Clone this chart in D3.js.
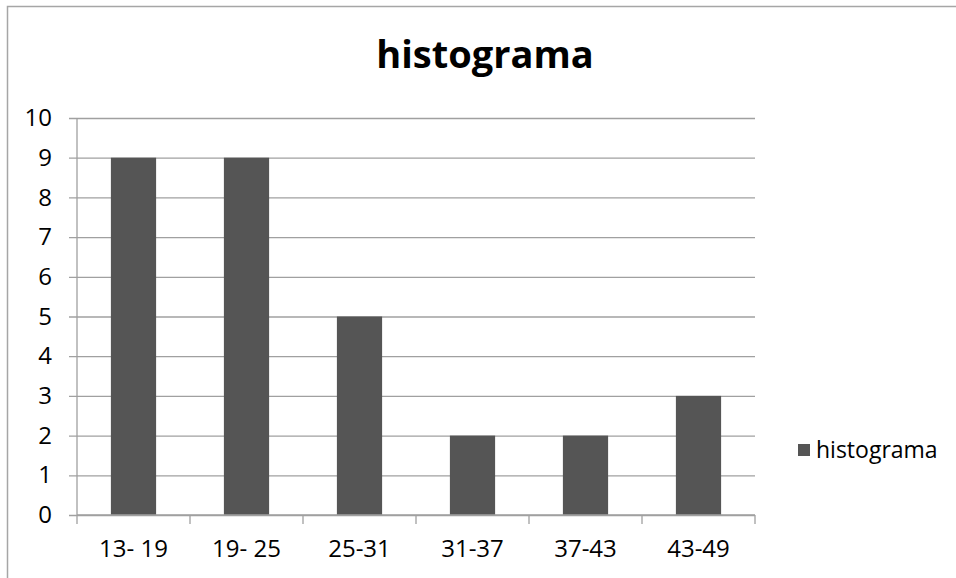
<!DOCTYPE html>
<html>
<head>
<meta charset="utf-8">
<script src="https://cdn.jsdelivr.net/npm/d3@7"></script>
<style>
  body { margin: 0; background: #fff; }
  svg text { font-family: "Open Sans", "Noto Sans", sans-serif; fill: #000; }
</style>
</head>
<body>
<svg class="chart" width="956" height="578"></svg>
<script>
// data
var categories = ["13- 19", "19- 25", "25-31", "31-37", "37-43", "43-49"];
var values = [9, 9, 5, 2, 2, 3];
var yTicks = [0, 1, 2, 3, 4, 5, 6, 7, 8, 9, 10];
var seriesName = "histograma";
var chartTitle = "histograma";

var svg = d3.select("svg.chart");

// outer chart frame (only top and left edges are visible)
svg.append("rect")
    .attr("x", 7.5).attr("y", 6.5)
    .attr("width", 1000).attr("height", 1000)
    .attr("fill", "none")
    .attr("stroke", "#a6a6a6")
    .attr("stroke-width", 1.5);

var margin = {top: 118, left: 77},
    width = 678,
    height = 397;

var g = svg.append("g")
    .attr("transform", "translate(" + margin.left + "," + margin.top + ")");

var x = d3.scaleBand()
    .domain(categories)
    .range([0, width])
    .paddingInner(0.6)
    .paddingOuter(0.3);

var y = d3.scaleLinear()
    .domain([0, 10])
    .range([height, 0]);

// gridlines + left ticks
g.append("g")
    .call(d3.axisLeft(y).tickValues(yTicks).tickSize(-width).tickSizeOuter(0).tickPadding(25))
    .call(function(a) {
        a.select(".domain").remove();
        a.selectAll(".tick line")
            .attr("x1", -8)
            .attr("stroke", "#a0a0a0")
            .attr("stroke-width", 1.3);
        a.selectAll(".tick text")
            .style("font-size", "24px")
            .attr("fill", "#000");
    });

// bars
g.selectAll("rect.bar")
    .data(values)
    .enter()
    .append("rect")
      .attr("class", "bar")
      .attr("x", function(d, i) { return x(categories[i]); })
      .attr("y", function(d) { return y(d); })
      .attr("width", x.bandwidth())
      .attr("height", function(d) { return height - y(d); })
      .attr("fill", "#555555");

// y axis line
g.append("line")
    .attr("x1", 0).attr("x2", 0)
    .attr("y1", 0).attr("y2", height)
    .attr("stroke", "#a0a0a0")
    .attr("stroke-width", 1.3);

// x axis with ticks between categories
var xb = d3.scaleLinear().domain([0, categories.length]).range([0, width]);
var xAxis = g.append("g").attr("transform", "translate(0," + height + ")");
xAxis.append("line")
    .attr("x1", 0).attr("x2", width)
    .attr("stroke", "#a0a0a0").attr("stroke-width", 1.3);
xAxis.selectAll("line.tk")
    .data(d3.range(categories.length + 1))
    .enter()
    .append("line")
      .attr("class", "tk")
      .attr("x1", function(d) { return xb(d); })
      .attr("x2", function(d) { return xb(d); })
      .attr("y1", 0).attr("y2", 9)
      .attr("stroke", "#a0a0a0").attr("stroke-width", 1.3);
xAxis.selectAll("text")
    .data(categories)
    .enter()
    .append("text")
      .attr("x", function(d) { return x(d) + x.bandwidth() / 2; })
      .attr("y", 42)
      .attr("text-anchor", "middle")
      .style("font-size", "24px")
      .text(function(d) { return d; });

// title
svg.append("text")
    .attr("x", 485)
    .attr("y", 68)
    .attr("text-anchor", "middle")
    .style("font-size", "38px")
    .style("font-weight", "bold")
    .text(chartTitle);

// legend
var leg = svg.append("g").attr("transform", "translate(798,444)");
leg.append("rect")
    .attr("width", 12).attr("height", 12)
    .attr("fill", "#555555");
leg.append("text")
    .attr("x", 18).attr("y", 14)
    .style("font-size", "23px")
    .text(seriesName);
</script>
</body>
</html>
